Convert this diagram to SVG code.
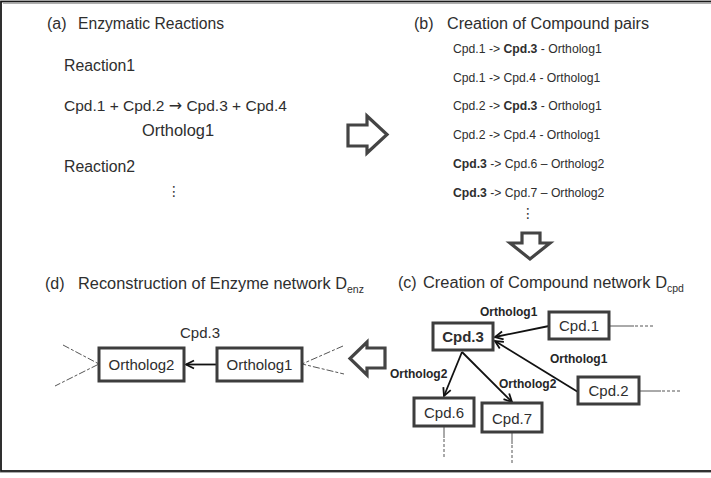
<svg xmlns="http://www.w3.org/2000/svg" width="711" height="478" viewBox="0 0 711 478">
<defs>
<style>
.t{font-family:"Liberation Sans",Arial,sans-serif;fill:#2e2e2e}
.h{font-size:16px}
.m{font-size:15.8px}
.s{font-size:12.2px}
.b{font-weight:bold}
.lbl{font-size:12px;font-weight:bold;fill:#262626}
.sub{font-size:10.5px}
.ar{font-family:"DejaVu Sans",sans-serif;font-size:16px}
.ell{font-family:"DejaVu Sans",sans-serif;font-size:14px;fill:#333}
.box{fill:#fff;stroke:#3d3d3d;stroke-width:3}
.blk{fill:#fff;stroke:#444;stroke-width:3.2;stroke-linejoin:miter}
.arr{stroke:#111;stroke-width:1.8;fill:none}
.thin{stroke:#555;stroke-width:1;fill:none}
.dash{stroke:#555;stroke-width:1;fill:none;stroke-dasharray:3 2}
.ddash{stroke:#555;stroke-width:1;fill:none;stroke-dasharray:7 2 3 2}
</style>
<marker id="ah" markerUnits="userSpaceOnUse" markerWidth="12" markerHeight="12" refX="9" refY="5" orient="auto">
<path d="M1,1 L9,5 L1,9" fill="none" stroke="#111" stroke-width="1.8"/>
</marker>
</defs>
<rect x="1" y="1.5" width="760" height="469.5" fill="#fff" stroke="#1a1a1a" stroke-width="1.8"/>
<line x1="0" y1="472.5" x2="711" y2="472.5" stroke="#aaa" stroke-width="1"/>
<line x1="3" y1="3.5" x2="711" y2="3.5" stroke="#999" stroke-width="0.8"/>

<g id="panel-a">
<text class="t h" x="47" y="29">(a)</text>
<text class="t h" x="78" y="29" textLength="146" lengthAdjust="spacingAndGlyphs">Enzymatic Reactions</text>
<text class="t m" x="64" y="71">Reaction1</text>
<text class="t" font-size="15.5" x="64" y="111">Cpd.1 + Cpd.2 <tspan class="ar">→</tspan> Cpd.3 + Cpd.4</text>
<text class="t m" x="142" y="136" textLength="72" lengthAdjust="spacingAndGlyphs">Ortholog1</text>
<text class="t m" x="64" y="172">Reaction2</text>
<text class="ell" x="174" y="196" text-anchor="middle">⋮</text>
</g>

<g id="panel-b">
<text class="t h" x="414" y="29">(b)</text>
<text class="t h" x="447" y="29" textLength="202" lengthAdjust="spacingAndGlyphs">Creation of Compound pairs</text>
<text class="t s" x="453" y="53">Cpd.1 -&gt; <tspan class="b">Cpd.3</tspan> - Ortholog1</text>
<text class="t s" x="453" y="81.5">Cpd.1 -&gt; Cpd.4 - Ortholog1</text>
<text class="t s" x="453" y="110">Cpd.2 -&gt; <tspan class="b">Cpd.3</tspan> - Ortholog1</text>
<text class="t s" x="453" y="138.5">Cpd.2 -&gt; Cpd.4 - Ortholog1</text>
<text class="t s" x="453" y="168"><tspan class="b">Cpd.3</tspan> -&gt; Cpd.6 – Ortholog2</text>
<text class="t s" x="453" y="197"><tspan class="b">Cpd.3</tspan> -&gt; Cpd.7 – Ortholog2</text>
<text class="ell" x="528" y="218" text-anchor="middle">⋮</text>
</g>

<g id="flow-arrows">
<polygon class="blk" points="348,125 367,125 367,116 387,134.5 367,153 367,146 348,146"/>
<polygon class="blk" points="522,233 540,233 540,243 550,243 530,259 510,243 522,243"/>
<polygon class="blk" points="385,348 367,348 367,342 350,358.5 367,375 367,368 385,368"/>
</g>

<g id="panel-c-title">
<text class="t h" x="398" y="288">(c)</text>
<text class="t h" x="423" y="288"><tspan textLength="244" lengthAdjust="spacingAndGlyphs">Creation of Compound network D</tspan><tspan class="sub" dy="4">cpd</tspan></text>
</g>

<g id="panel-d-title">
<text class="t h" x="45" y="289">(d)</text>
<text class="t h" x="78" y="289"><tspan textLength="269" lengthAdjust="spacingAndGlyphs">Reconstruction of Enzyme network D</tspan><tspan class="sub" dy="4">enz</tspan></text>
</g>

<g id="connectors">
<line class="arr" x1="549" y1="326" x2="495" y2="337" marker-end="url(#ah)"/>
<line class="arr" x1="578" y1="392" x2="495" y2="341" marker-end="url(#ah)"/>
<line class="arr" x1="462" y1="352" x2="444" y2="396" marker-end="url(#ah)"/>
<line class="arr" x1="462" y1="352" x2="512" y2="402" marker-end="url(#ah)"/>
<line class="arr" x1="217" y1="364.5" x2="186" y2="364.5" marker-end="url(#ah)"/>
<line class="thin" x1="609" y1="326" x2="634" y2="326"/>
<line class="dash" x1="635" y1="326" x2="655" y2="326"/>
<line class="thin" x1="639" y1="391" x2="661" y2="391"/>
<line class="dash" x1="662" y1="391" x2="682" y2="391"/>
<line class="thin" x1="444" y1="426" x2="444" y2="438"/>
<line class="dash" x1="444" y1="439" x2="444" y2="458"/>
<line class="thin" x1="512" y1="432" x2="512" y2="444"/>
<line class="dash" x1="512" y1="445" x2="512" y2="465"/>
<polyline class="ddash" points="63,345 99,364 55,386"/>
<polyline class="ddash" points="343,346 302,364 344,374"/>
<text class="t lbl" x="480" y="316">Ortholog1</text>
<text class="t lbl" x="550" y="363">Ortholog1</text>
<text class="t lbl" x="390" y="378">Ortholog2</text>
<text class="t lbl" x="499" y="388">Ortholog2</text>
</g>

<g id="node-cpd3">
<rect class="box" x="433" y="323" width="60" height="27"/>
<text class="t b" font-size="15" x="463" y="342" text-anchor="middle">Cpd.3</text>
</g>
<g id="node-cpd1">
<rect class="box" x="549" y="312" width="60" height="27"/>
<text class="t" font-size="15" x="579" y="331" text-anchor="middle">Cpd.1</text>
</g>
<g id="node-cpd2">
<rect class="box" x="578" y="377" width="61" height="27"/>
<text class="t" font-size="15" x="608.5" y="396" text-anchor="middle">Cpd.2</text>
</g>
<g id="node-cpd6">
<rect class="box" x="414" y="398" width="60" height="28"/>
<text class="t" font-size="15" x="444" y="418" text-anchor="middle">Cpd.6</text>
</g>
<g id="node-cpd7">
<rect class="box" x="482" y="403" width="60" height="29"/>
<text class="t" font-size="15" x="512" y="423.5" text-anchor="middle">Cpd.7</text>
</g>

<g id="node-cpd3-label">
<text class="t" font-size="15" x="200" y="338" text-anchor="middle">Cpd.3</text>
</g>
<g id="node-ortholog2">
<rect class="box" x="99" y="348" width="85" height="33"/>
<text class="t" font-size="15" x="141.5" y="370" text-anchor="middle">Ortholog2</text>
</g>
<g id="node-ortholog1">
<rect class="box" x="217" y="348" width="85" height="33"/>
<text class="t" font-size="15" x="259.5" y="370" text-anchor="middle">Ortholog1</text>
</g>
</svg>
